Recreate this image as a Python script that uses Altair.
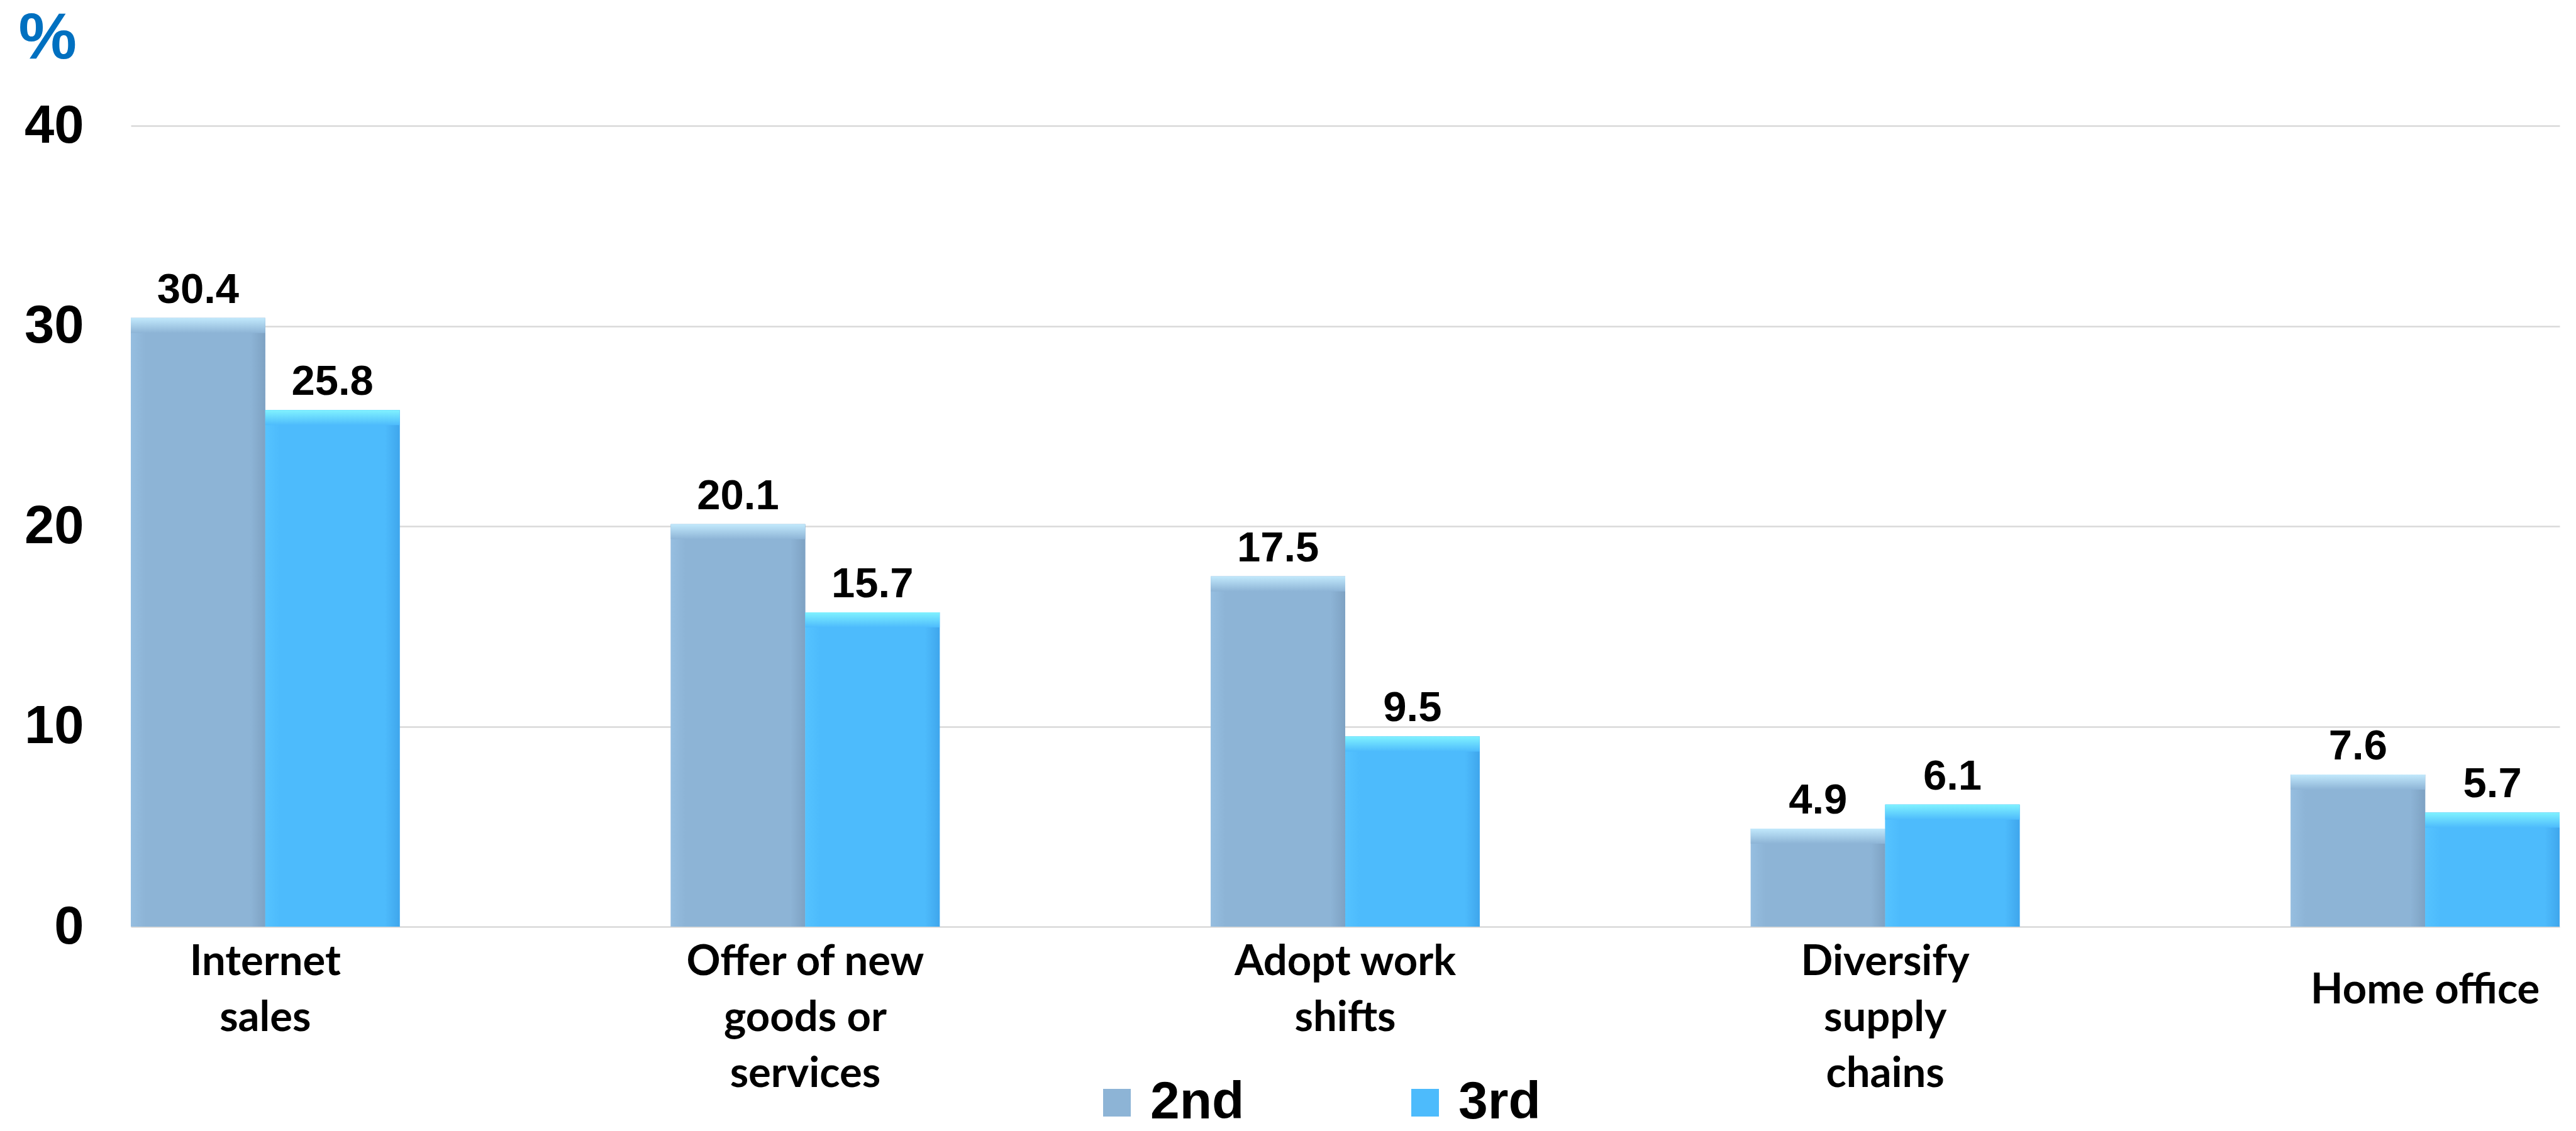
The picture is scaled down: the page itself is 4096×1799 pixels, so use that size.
import altair as alt
import pandas as pd

# ---------------- data ----------------
categories = ["Internet sales", "Offer of new goods or services", "Adopt work shifts",
              "Diversify supply chains", "Home office"]
label_lines = [["Internet", "sales"], ["Offer of new", "goods or", "services"],
               ["Adopt work", "shifts"], ["Diversify", "supply", "chains"], ["Home office"]]
series = ["2nd", "3rd"]
values_2nd = [30.4, 20.1, 17.5, 4.9, 7.6]
values_3rd = [25.8, 15.7, 9.5, 6.1, 5.7]
y_ticks = [0, 10, 20, 30, 40]

# ---------------- styles ----------------
main_colors = ["#8DB4D6", "#4DBBFC"]
top_colors = ["#C2E9FC", "#80F2FF"]
left_colors = ["#96BEE0", "#55C3FF"]
right_colors = ["#7EA2C3", "#3FA6EC"]

rows = []
for c, a, b in zip(categories, values_2nd, values_3rd):
    rows.append({"category": c, "series": series[0], "value": a})
    rows.append({"category": c, "series": series[1], "value": b})
df = pd.DataFrame(rows)

label_expr = ""
for c, lines in zip(categories, label_lines):
    arr = "[" + ",".join("'" + l + "'" for l in lines) + "]"
    label_expr += f"datum.label == '{c}' ? {arr} : "
label_expr += "datum.label"

PLOT_W, PLOT_H = 3862, 1274
ARIAL = "Liberation Sans, Arial, sans-serif"
CALIBRI = "Lato, Carlito, Calibri, sans-serif"

x_axis = alt.Axis(
    title=None, labelExpr=label_expr, labelAngle=0, labelFont=CALIBRI,
    labelFontWeight="bold", labelFontSize=67, labelLineHeight=89, labelColor="black",
    labelBaseline="top", labelAlign="center", labelLimit=2000, labelOverlap=False,
    labelPadding={"condition": {"test": "datum.value === 'Home office'", "value": 68}, "value": 23},
    domain=False, ticks=False, grid=False,
)
x_enc = alt.X("category:N", sort=categories,
              scale=alt.Scale(domain=categories, paddingInner=0.502, paddingOuter=0),
              axis=x_axis)
xo_enc = alt.XOffset("series:N", scale=alt.Scale(domain=series, paddingInner=0, paddingOuter=0))

y_axis = alt.Axis(
    values=y_ticks, title="%", titleAngle=0, titleX=-179, titleY=-108, titleAlign="left",
    titleBaseline="alphabetic", titleFont=ARIAL, titleFontWeight="bold", titleFontSize=104,
    titleColor="#0070C0", labelFont=ARIAL, labelFontWeight="bold", labelFontSize=85,
    labelColor="black", labelPadding=75, domain=False, ticks=False, grid=True,
    gridColor="#D9D9D9", gridWidth=2.6,
)
y_scale = alt.Scale(domain=[0, 40], nice=False, zero=True)
y_enc = alt.Y("value:Q", scale=y_scale, axis=y_axis)

base = alt.Chart(df)

bars = base.mark_bar().encode(
    x=x_enc, xOffset=xo_enc, y=y_enc,
    color=alt.Color("series:N", scale=alt.Scale(domain=series, range=main_colors),
                    legend=alt.Legend(orient="none", legendX=1526, legendY=1512,
                                      direction="horizontal", title=None,
                                      symbolType="square", symbolSize=1936,
                                      symbolStrokeWidth=0, symbolOpacity=1,
                                      labelFont=ARIAL, labelFontWeight="bold",
                                      labelFontSize=84, labelColor="black",
                                      labelOffset=11, columnPadding=245, padding=0,
                                      labelLimit=1000)),
)

layers = [bars]
for i, s in enumerate(series):
    side = base.transform_filter(alt.datum.series == s).mark_bar(
        color=alt.Gradient(gradient="linear", x1=0, x2=1, y1=0, y2=0, stops=[
            alt.GradientStop(offset=0, color=left_colors[i]),
            alt.GradientStop(offset=0.11, color=main_colors[i]),
            alt.GradientStop(offset=0.89, color=main_colors[i]),
            alt.GradientStop(offset=1, color=right_colors[i]),
        ])
    ).encode(x=x_enc, xOffset=xo_enc, y=y_enc)
    top = base.transform_filter(alt.datum.series == s).mark_bar(
        y2Offset=24,
        color=alt.Gradient(gradient="linear", x1=0, x2=0, y1=0, y2=1, stops=[
            alt.GradientStop(offset=0, color=top_colors[i]),
            alt.GradientStop(offset=1, color=main_colors[i]),
        ])
    ).encode(x=x_enc, xOffset=xo_enc, y=y_enc, y2=alt.Y2("value:Q"))
    layers += [side, top]

labels = base.mark_text(
    dy=-24, baseline="alphabetic", align="center", font=ARIAL, fontWeight="bold",
    fontSize=67, color="black"
).encode(x=x_enc, xOffset=xo_enc, y=y_enc, text=alt.Text("value:Q", format=".1f"))
layers.append(labels)

chart = alt.layer(*layers).properties(
    width=PLOT_W, height=PLOT_H,
    autosize=alt.AutoSizeParams(type="none"),
    padding={"left": 208, "top": 200, "right": 26, "bottom": 325},
    background="white",
).configure_view(stroke=None)

chart.save("out.html", embed_options={"renderer": "svg", "actions": False})
